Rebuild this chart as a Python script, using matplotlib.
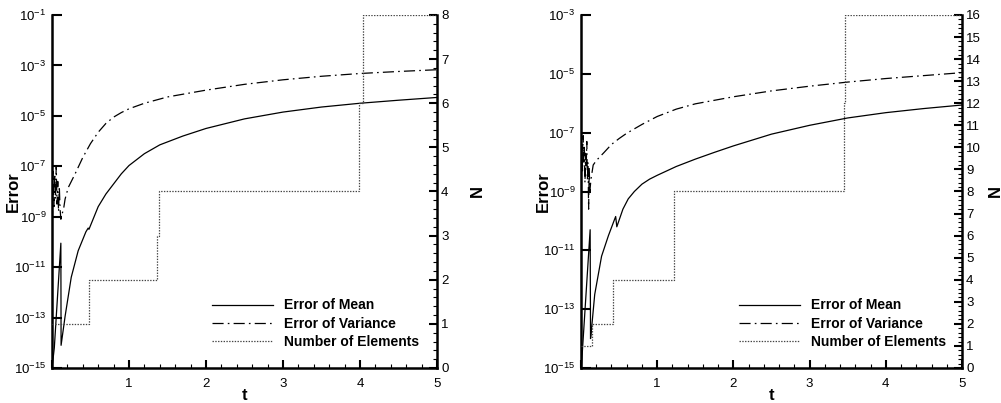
import matplotlib
matplotlib.use('Agg')
import matplotlib.pyplot as plt
import numpy as np
from matplotlib.ticker import FixedLocator, MultipleLocator, NullLocator, FuncFormatter

plt.rcParams['font.family'] = ['Liberation Sans', 'DejaVu Sans']
plt.rcParams['mathtext.fontset'] = 'custom'
plt.rcParams['mathtext.rm'] = 'Liberation Sans'
plt.rcParams['mathtext.it'] = 'Liberation Sans:italic'
plt.rcParams['mathtext.bf'] = 'Liberation Sans:bold'
plt.rcParams['lines.scale_dashes'] = False

# ---------------- data (log10 of errors, N counts) ----------------
# Left panel
t_mean_left = [0.0, 0.03, 0.115, 0.118, 0.17, 0.25, 0.34, 0.44, 0.47, 0.48, 0.6, 0.7, 0.8, 0.9,
               1.0, 1.2, 1.4, 1.7, 2.0, 2.5, 3.0, 3.5, 4.0, 4.5, 5.0]
log_mean_left = [-15.0, -14.2, -10.05, -14.1, -12.95, -11.4, -10.35, -9.6, -9.45, -9.5, -8.6, -8.1, -7.7, -7.3,
                 -6.97, -6.5, -6.15, -5.8, -5.5, -5.12, -4.85, -4.65, -4.5, -4.38, -4.27]
t_var_left = [0.0, 0.004, 0.015, 0.025, 0.035, 0.045, 0.055, 0.065, 0.075, 0.085, 0.095, 0.105,
              0.115, 0.13, 0.15, 0.17, 0.21, 0.3, 0.4, 0.5, 0.6, 0.7, 0.8, 0.9, 1.0, 1.2, 1.5,
              2.0, 2.5, 3.0, 3.5, 4.0, 4.5, 5.0]
log_var_left = [-5.0, -9.2, -7.2, -8.6, -7.3, -8.3, -7.0, -8.5, -7.6, -8.8, -7.8, -8.7,
                -9.1, -8.9, -8.7, -8.3, -7.85, -7.3, -6.65, -6.1, -5.65, -5.3, -5.05, -4.87, -4.72, -4.5, -4.25,
                -3.98, -3.75, -3.57, -3.43, -3.32, -3.24, -3.17]
t_n_left = [0.0, 0.475, 1.37, 1.385, 3.99, 4.04, 5.0]
n_left = [1, 2, 3, 4, 6, 8, 8]

# Right panel
t_mean_right = [0.0, 0.004, 0.12, 0.125, 0.13, 0.18, 0.27, 0.36, 0.44, 0.455, 0.47, 0.55, 0.62, 0.7,
                0.8, 0.9, 1.0, 1.25, 1.5, 1.75, 2.0, 2.5, 3.0, 3.5, 4.0, 4.5, 5.0]
log_mean_right = [-10.2, -15.0, -10.3, -14.0, -13.9, -12.5, -11.2, -10.5, -9.95, -9.85, -10.2, -9.6, -9.25, -9.0,
                  -8.75, -8.58, -8.45, -8.15, -7.9, -7.67, -7.45, -7.05, -6.75, -6.5, -6.32, -6.18, -6.06]
t_var_right = [0.0, 0.004, 0.012, 0.02, 0.028, 0.036, 0.044, 0.052, 0.06, 0.068, 0.076, 0.084,
               0.092, 0.1, 0.108, 0.116, 0.13, 0.16, 0.2, 0.3, 0.4, 0.5, 0.6, 0.8, 1.0,
               1.25, 1.5, 2.0, 2.5, 3.0, 3.5, 4.0, 4.5, 5.0]
log_var_right = [-5.3, -8.6, -7.4, -8.3, -7.1, -8.0, -7.5, -8.7, -7.7, -8.2, -7.3, -8.6,
                 -8.0, -9.6, -8.2, -9.0, -8.6, -8.1, -7.95, -7.68, -7.4, -7.2, -7.02, -6.72, -6.45,
                 -6.2, -6.02, -5.78, -5.58, -5.42, -5.28, -5.16, -5.06, -4.96]
t_n_right = [0.0, 0.145, 0.42, 1.22, 3.45, 3.465, 5.0]
n_right = [1, 2, 4, 8, 12, 16, 16]

legend_labels = ['Error of Mean', 'Error of Variance', 'Number of Elements']
x_tick_labels = ['', '1', '2', '3', '4', '5']

# ---------------- drawing ----------------
fig = plt.figure(figsize=(10.01, 4.03), dpi=100)

W, H = 1001.0, 403.0
DASHDOT = (0, (8, 3, 1.2, 3))
DOTTED = (0, (1, 1))


def panel(px_left, px_right, t_mean, log_mean, t_var, log_var, t_n, n_vals,
          log_lo, log_hi, n_max, err_x, n_x):
    top_px, bot_px = 15.0, 368.0
    ax = fig.add_axes([px_left / W, (H - bot_px) / H, (px_right - px_left) / W,
                       (bot_px - top_px) / H])
    ax2 = ax.twinx()

    ax.set_yscale('log')
    l1, = ax.plot(t_mean, 10.0 ** np.array(log_mean), color='black', lw=0.9)
    l2, = ax.plot(t_var, 10.0 ** np.array(log_var), color='black', lw=0.9, linestyle=DASHDOT)
    l3, = ax2.plot(t_n, n_vals, color='#444444', lw=0.9, linestyle=DOTTED,
                   drawstyle='steps-post')

    ax.set_xlim(0, 5)
    ax.set_ylim(10.0 ** log_lo, 10.0 ** log_hi)
    ax2.set_ylim(0, n_max)

    ax.yaxis.set_major_locator(FixedLocator(10.0 ** np.arange(log_lo, log_hi + 1, 2)))
    ax.yaxis.set_minor_locator(NullLocator())
    ax.yaxis.set_major_formatter(FuncFormatter(lambda v, p: r'$10^{%d}$' % round(np.log10(v))))

    ax.xaxis.set_major_locator(FixedLocator([0, 1, 2, 3, 4, 5]))
    ax.xaxis.set_major_formatter(FuncFormatter(lambda v, p: x_tick_labels[int(round(v))]))
    ax.xaxis.set_minor_locator(MultipleLocator(0.2))

    ax2.yaxis.set_major_locator(MultipleLocator(1))
    ax2.yaxis.set_minor_locator(MultipleLocator(0.2))

    for s in ['top', 'right']:
        ax.spines[s].set_visible(False)
    for s in ['top', 'left', 'bottom']:
        ax2.spines[s].set_visible(False)
    for s in ['left', 'bottom']:
        ax.spines[s].set_linewidth(1.8)
    ax2.spines['right'].set_linewidth(1.8)

    ax.tick_params(axis='both', which='major', direction='in', width=1.5, labelsize=9.5,
                   top=False, right=False)
    ax.tick_params(axis='y', which='major', length=7, pad=4)
    ax.tick_params(axis='x', which='major', length=6, pad=7)
    ax.tick_params(axis='x', which='minor', direction='in', length=3, width=0.8, top=False)
    ax2.tick_params(axis='y', which='major', direction='in', length=6, width=1.5,
                    labelsize=9.5, pad=3)
    ax2.tick_params(axis='y', which='minor', direction='in', length=3, width=0.8)

    ax.set_ylabel('Error', fontsize=12, fontweight='bold')
    ax.yaxis.set_label_coords(err_x, 0.5)
    ax.set_xlabel('t', fontsize=12, fontweight='bold')
    ax.xaxis.set_label_coords(0.5, -0.058)
    ax2.set_ylabel('N', fontsize=12, fontweight='bold', rotation=90)
    ax2.yaxis.set_label_coords(n_x, 0.5)

    ax2.legend([l1, l2, l3], legend_labels, loc='upper left',
               bbox_to_anchor=(0.415, 0.197), frameon=False,
               prop={'weight': 'bold', 'size': 10}, handlelength=4.4,
               handletextpad=0.8, labelspacing=0.3, borderpad=0, borderaxespad=0)
    return ax, ax2


panel(52, 437, t_mean_left, log_mean_left, t_var_left, log_var_left, t_n_left, n_left,
      -15, -1, 8, -0.08, 1.086)
panel(581, 962, t_mean_right, log_mean_right, t_var_right, log_var_right, t_n_right, n_right,
      -15, -3, 16, -0.079, 1.068)

fig.savefig('out.png', dpi=100)
